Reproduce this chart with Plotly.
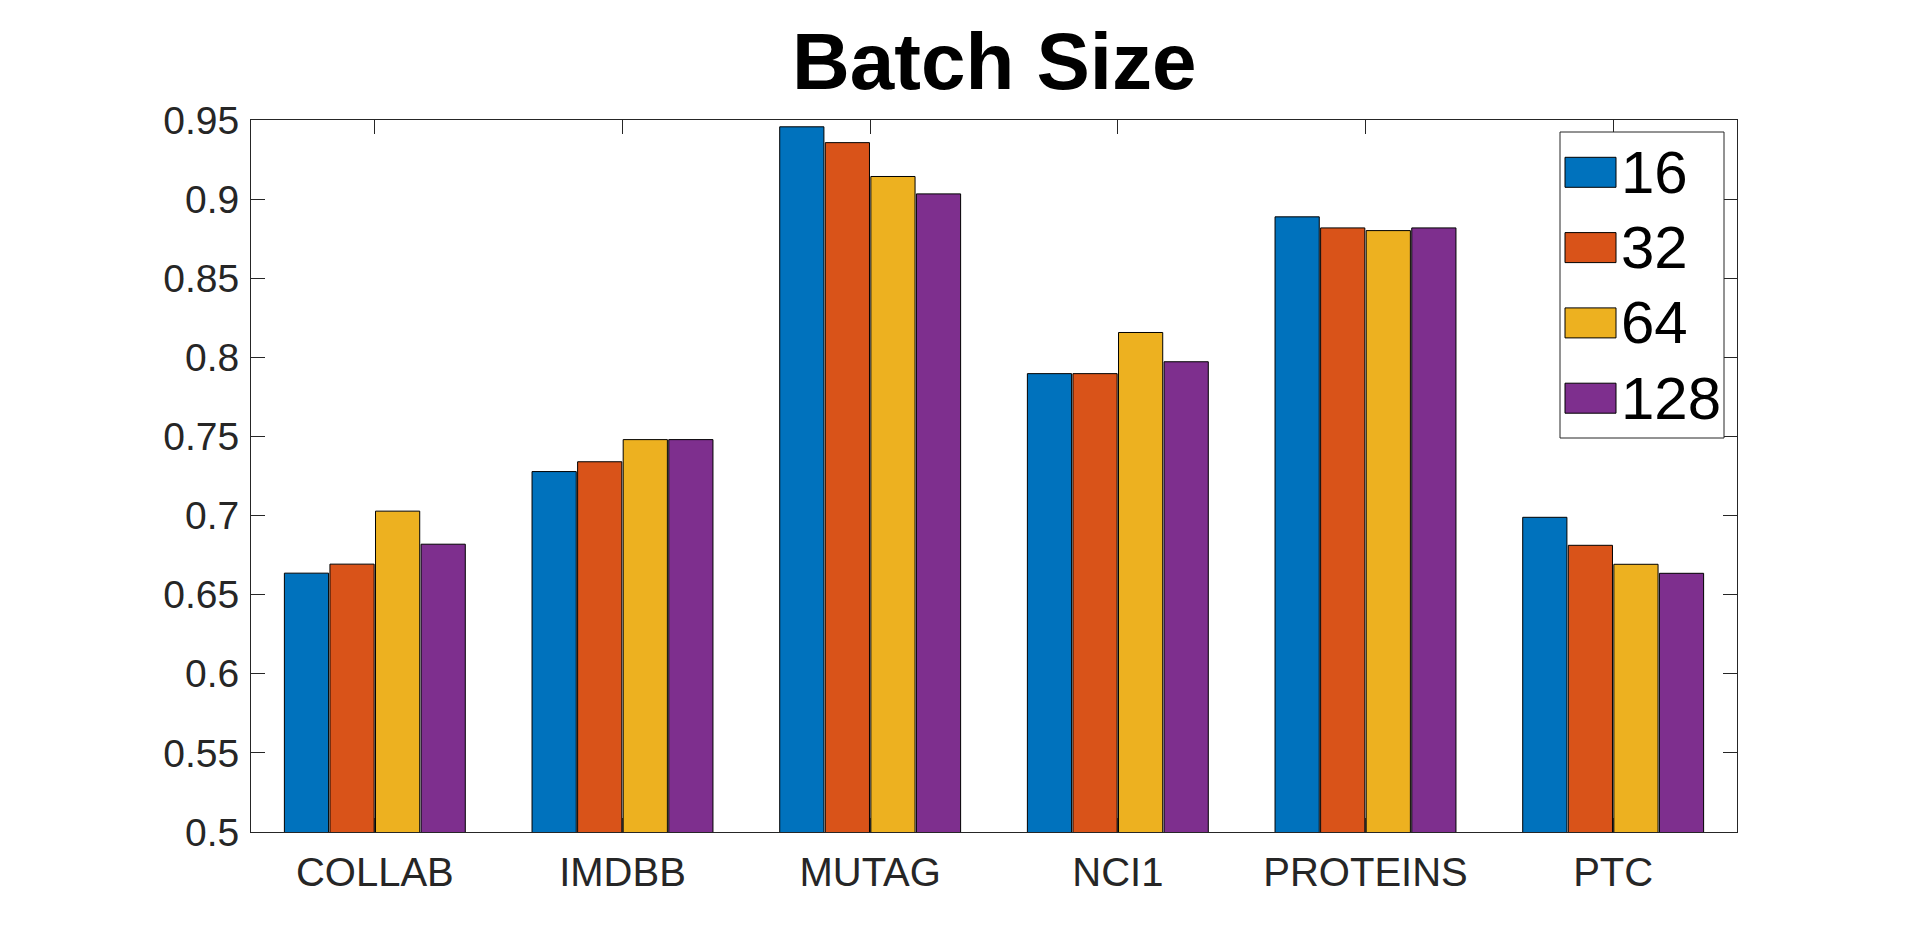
import plotly.graph_objects as go

categories = ["COLLAB", "IMDBB", "MUTAG", "NCI1", "PROTEINS", "PTC"]
series_names = ["16", "32", "64", "128"]
vals_16 = [0.6636, 0.7278, 0.9457, 0.7897, 0.8888, 0.6989]
vals_32 = [0.6693, 0.7340, 0.9357, 0.7897, 0.8818, 0.6812]
vals_64 = [0.7028, 0.7480, 0.9143, 0.8157, 0.8801, 0.6692]
vals_128 = [0.6819, 0.7480, 0.9033, 0.7972, 0.8818, 0.6635]
series_values = [vals_16, vals_32, vals_64, vals_128]
colors = ["#0072BD", "#D95319", "#EDB120", "#7E2F8E"]
y_ticks = [0.5, 0.55, 0.6, 0.65, 0.7, 0.75, 0.8, 0.85, 0.9, 0.95]
y_ticklabels = ["0.5", "0.55", "0.6", "0.65", "0.7", "0.75", "0.8", "0.85", "0.9", "0.95"]

W, H = 1920, 936
OFF = 8  # default page margin of the html body
L, R, T, B = 243, 191, 112, 112
FONT = "Liberation Sans, Arial, sans-serif"
AX = "#262626"

fig = go.Figure()
for name, vals, col in zip(series_names, series_values, colors):
    fig.add_trace(go.Bar(
        x=categories, y=vals, name=name,
        marker=dict(color=col, line=dict(color="black", width=1)),
        showlegend=False,
    ))

pw, ph = W - L - R, H - T - B
def px(x):
    return (x - OFF - L) / pw
def py(y):
    return (H - B - (y - OFF)) / ph

shapes = []
annotations = []
shapes.append(dict(type="rect", xref="paper", yref="paper",
                   x0=px(1560), x1=px(1724), y0=py(438), y1=py(132),
                   line=dict(color=AX, width=1), fillcolor="white", layer="above"))
for i, (name, col) in enumerate(zip(series_names, colors)):
    yc = 172.3 + i * 75.3
    shapes.append(dict(type="rect", xref="paper", yref="paper",
                       x0=px(1565), x1=px(1616), y0=py(yc + 15), y1=py(yc - 15),
                       line=dict(color="black", width=1), fillcolor=col, layer="above"))
    annotations.append(dict(text=name, xref="paper", yref="paper",
                            x=px(1619), y=py(yc), xanchor="left", yanchor="middle",
                            showarrow=False, font=dict(family=FONT, size=60, color="black")))

annotations.append(dict(text="<b>Batch Size</b>", xref="paper", yref="paper",
                        x=0.5, y=py(61), xanchor="center", yanchor="middle",
                        showarrow=False, font=dict(family=FONT, size=80, color="black")))

fig.update_layout(
    width=W, height=H,
    margin=dict(l=L, r=R, t=T, b=B, pad=0),
    paper_bgcolor="white", plot_bgcolor="white",
    barmode="group", bargap=0.264, bargroupgap=0.03,
    font=dict(family=FONT, color=AX),
    shapes=shapes, annotations=annotations,
    showlegend=False,
)
fig.update_xaxes(
    range=[-0.5, 5.5], showline=True, linecolor=AX, linewidth=1, mirror="ticks",
    ticks="inside", ticklen=14, tickcolor=AX, tickwidth=1,
    tickfont=dict(family=FONT, size=40, color=AX), showgrid=False, zeroline=False,
    ticklabelstandoff=5,
)
fig.update_yaxes(
    range=[0.5, 0.95], tickvals=y_ticks, ticktext=y_ticklabels,
    showline=True, linecolor=AX, linewidth=1, mirror="ticks",
    ticks="inside", ticklen=14, tickcolor=AX, tickwidth=1,
    tickfont=dict(family=FONT, size=39, color=AX), showgrid=False, zeroline=False,
    ticklabelstandoff=3,
)

fig.write_html("out.html")
